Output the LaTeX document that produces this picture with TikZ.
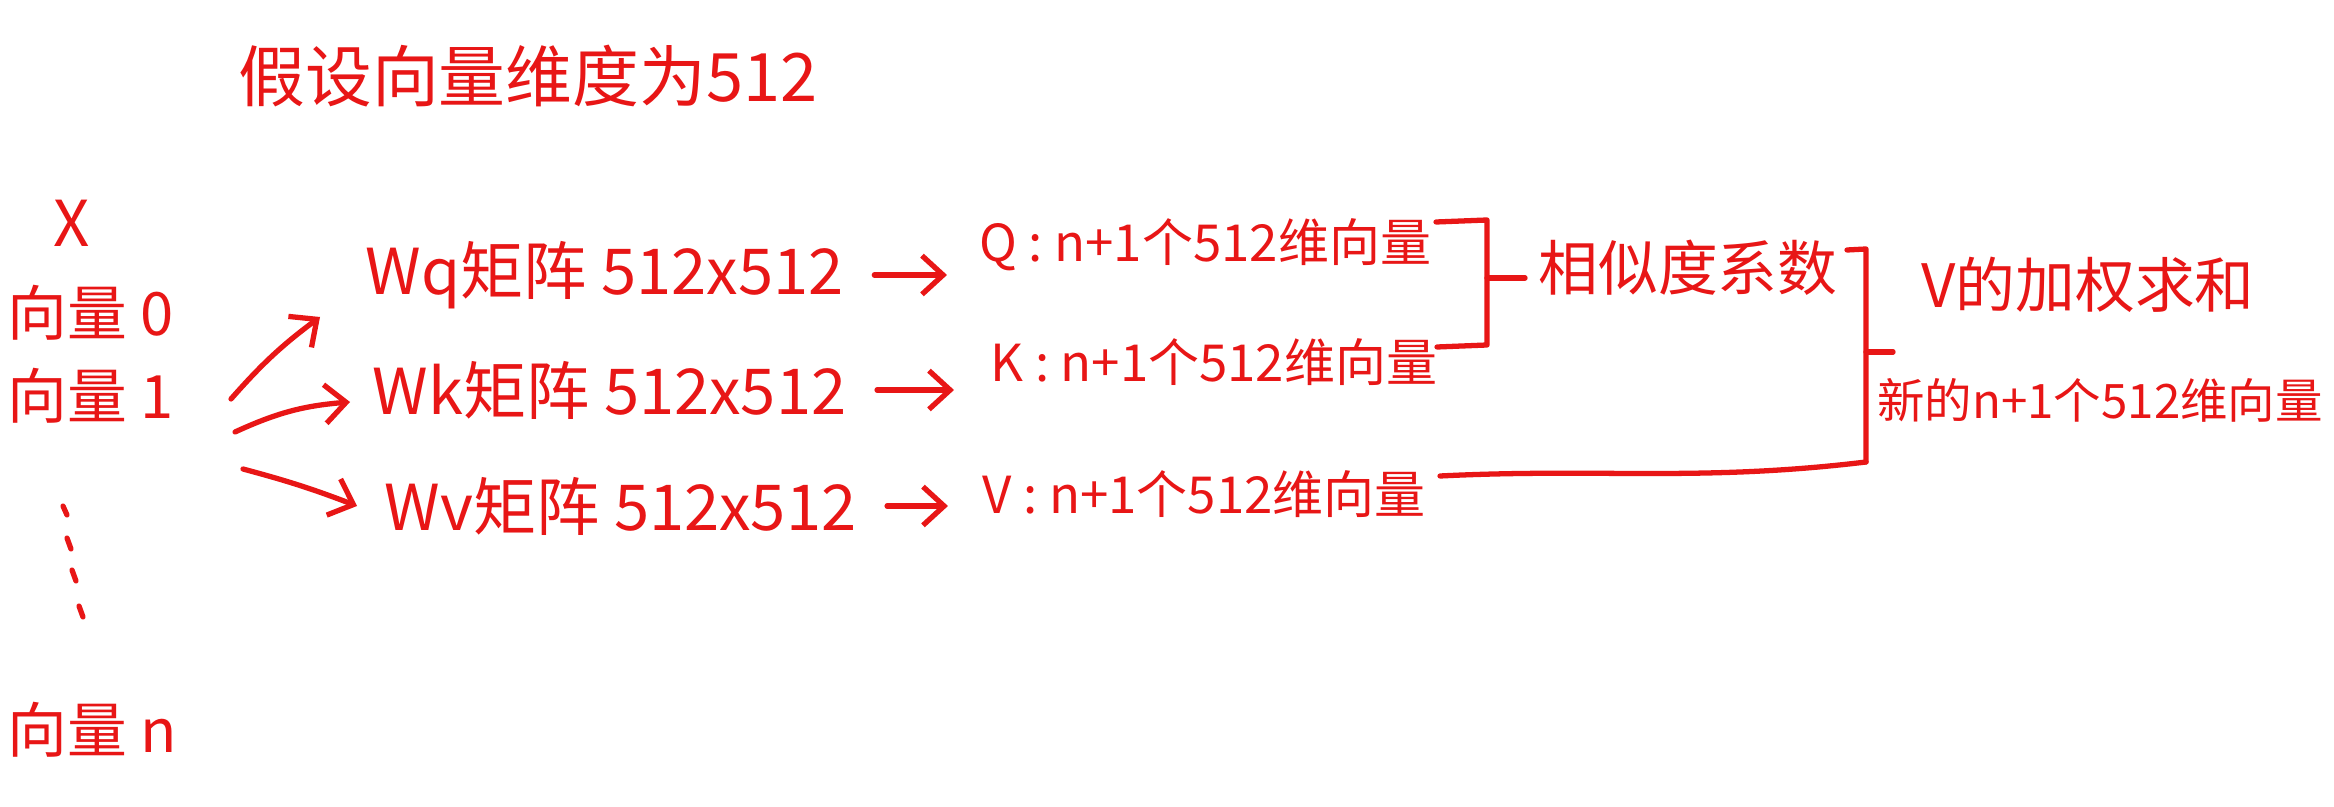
\documentclass[tikz,border=0pt]{standalone}
\usepackage{fontspec}
\newfontfamily\cjk{Noto Sans CJK SC}
\usetikzlibrary{arrows.meta}
\definecolor{ink}{RGB}{232,22,22}
\begin{document}
\begin{tikzpicture}[x=0.01cm,y=-0.01cm,
  hw/.style={text=ink,inner sep=0pt},
  fsa/.style={font=\cjk\fontsize{19}{21}\selectfont},
  fsb/.style={font=\cjk\fontsize{18}{20}\selectfont},
  fsc/.style={font=\cjk\fontsize{17}{19}\selectfont},
  fsd/.style={font=\cjk\fontsize{14.5}{16}\selectfont},
  fse/.style={font=\cjk\fontsize{13.5}{15}\selectfont},
  pen/.style={draw=ink,line width=1.5pt,line cap=round,line join=round},
  arr/.style={pen,-{Straight Barb[length=6pt,width=11pt]}}]
\useasboundingbox[fill=white] (0,0) rectangle (2334,807);

% title
\node[hw,fsa] (title) at (528,76) {假设向量维度为512};

% input vectors
\node[hw,fsb] (X) at (72,223) {X};
\node[hw,fsc,anchor=west] (v0) at (7,313) {向量 0};
\node[hw,fsc,anchor=west] (v1) at (7,396) {向量 1};
\node[hw,fsc,anchor=west] (vn) at (7,730) {向量 n};
\draw[pen] (63,506) -- (67,515);
\draw[pen] (67,538) -- (71,549);
\draw[pen] (72,570) -- (76,581);
\draw[pen] (79,606) -- (83,617);

% rows
\node[hw,fsb,anchor=west] (wq) at (365,275) {Wq矩阵 512x512};
\node[hw,fsd,anchor=west] (q) at (979,245) {Q : n+1个512维向量};
\node[hw,fsb,anchor=west] (wk) at (372,390) {Wk矩阵 512x512};
\node[hw,fsd,anchor=west] (k) at (990,362) {K : n+1个512维向量};
\node[hw,fsb,anchor=west] (wv) at (384,506) {Wv矩阵 512x512};
\node[hw,fsd,anchor=west] (v) at (982,494) {V : n+1个512维向量};

\draw[arr,shorten <=0.3cm,shorten >=0.32cm] (wq.east) -- (q.west |- wq.east);
\draw[arr,shorten <=0.3cm,shorten >=0.36cm] (wk.east) -- (k.west |- wk.east);
\draw[arr,shorten <=0.3cm,shorten >=0.34cm] (wv.east) -- (v.west |- wv.east);

% fan-out arrows
\coordinate (a1s) at (231,399);
\coordinate (a1e) at (320,317);
\coordinate (a2s) at (235,432);
\coordinate (a2e) at (350,402);
\coordinate (a3s) at (243,469);
\coordinate (a3e) at (357,506);
\draw[arr] (a1s) to[bend left=6] (a1e);
\draw[arr] (a2s) to[bend left=10] (a2e);
\draw[arr] (a3s) to[bend left=3] (a3e);

% bracket Q,K
\draw[pen] (1436,222) -- (1487,220) -- (1487,345) -- (1437,347);
\draw[pen] (1487,278) -- (1525,278);
\node[hw,fsc] (sim) at (1688,268) {相似度系数};

% bracket sim, V
\coordinate (vls) at (1440,476);
\coordinate (b2b) at (1866,462);
\draw[pen] (1847,250) -- (1866,249) -- (b2b);
\draw[pen] (vls) .. controls (1600,468) and (1700,482) .. (b2b);
\draw[pen] (1866,352) -- (1893,352);
\node[hw,fsc] (vsum) at (2088,285) {V的加权求和};
\node[hw,fse] (newv) at (2100,400) {新的n+1个512维向量};
\end{tikzpicture}
\end{document}
